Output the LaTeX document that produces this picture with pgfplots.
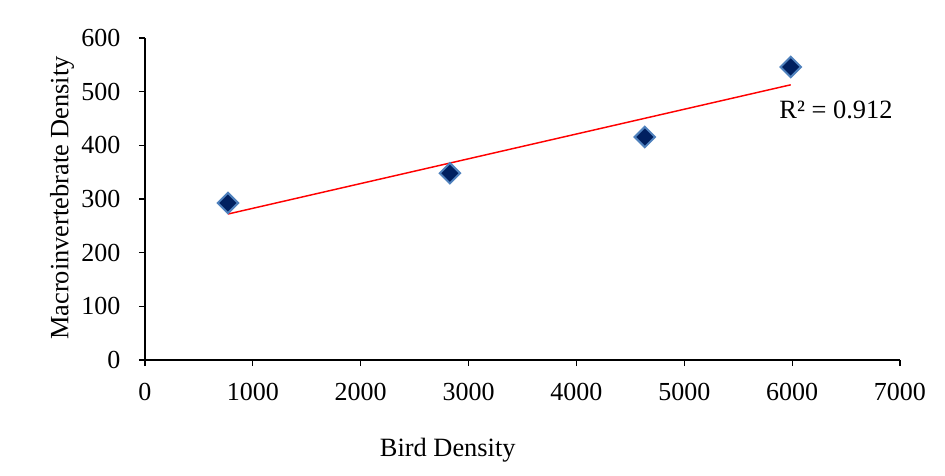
\documentclass[border=0pt]{standalone}
\usepackage{fontspec}
\setmainfont{Liberation Serif}
\usepackage{pgfplots}
\pgfplotsset{compat=1.18}
\definecolor{mfill}{RGB}{0,32,96}
\definecolor{medge}{RGB}{79,129,189}
\begin{document}
\begin{tikzpicture}
\useasboundingbox (-108.75pt,-86.25pt) rectangle (600pt,270pt);
\begin{axis}[
  scale only axis,
  width=566.25pt, height=241.5pt,
  xmin=0, xmax=7000, ymin=0, ymax=600,
  axis x line*=bottom, axis y line*=left,
  axis line style={line width=0.8pt, -},
  xtick={0,1000,...,7000}, ytick={0,100,...,600},
  tick align=outside, major tick length=4.5pt,
  tick style={line width=0.8pt, black},
  /pgf/number format/assume math mode=true,
  /pgf/number format/1000 sep={},
  tick label style={font=\fontsize{19.5}{22}\selectfont},
  xticklabel style={yshift=-9pt},
  yticklabel style={xshift=-10.5pt},
  xlabel={Bird Density},
  ylabel={Macroinvertebrate Density},
  label style={font=\fontsize{19.8}{22}\selectfont},
  xlabel style={at={(axis description cs:0.401,-0.2795)}, anchor=center},
  ylabel style={at={(axis description cs:-0.11,0.503)}, anchor=center},
  clip=false,
]
\addplot[red, line width=1.1pt] coordinates {(769,272.0) (5987,512.8)};
\addplot[only marks, mark=square*, mark size=5.4pt,
  mark options={rotate=45, fill=mfill, draw=medge, line width=1.5pt}]
  coordinates {(769,292.5) (2827,348) (4634,415.5) (5987,546)};
\node[anchor=west, font=\fontsize{19.8}{22}\selectfont, inner sep=0pt] at (axis cs:5880,466) {R² = 0.912};
\end{axis}
\end{tikzpicture}
\end{document}
